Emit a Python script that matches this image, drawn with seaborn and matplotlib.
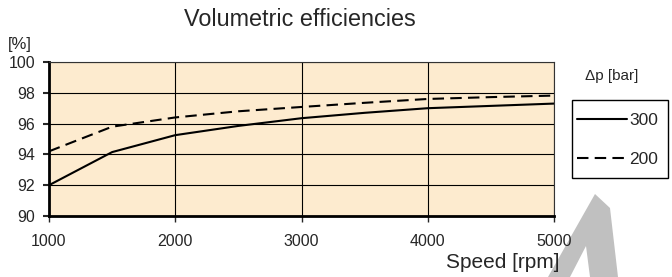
import matplotlib
matplotlib.use('Agg')
import matplotlib.pyplot as plt
import pandas as pd
import seaborn as sns
from matplotlib.lines import Line2D
from matplotlib.patches import Polygon, Rectangle

sns.set_style("white")
plt.rcParams['font.family'] = ['Liberation Sans', 'DejaVu Sans']

# values
speed = [1000, 1500, 2000, 2500, 3000, 3500, 4000, 4500, 5000]
eff_300 = [92.0, 94.15, 95.25, 95.85, 96.35, 96.7, 97.0, 97.15, 97.3]
eff_200 = [94.2, 95.8, 96.4, 96.8, 97.08, 97.35, 97.6, 97.72, 97.82]
pressures = [300, 200]
x_ticks = [1000, 2000, 3000, 4000, 5000]
y_ticks = [90, 92, 94, 96, 98, 100]

df = pd.DataFrame({
    'speed': speed * 2,
    'eff': eff_300 + eff_200,
    'dp': [pressures[0]] * len(speed) + [pressures[1]] * len(speed),
})

fig = plt.figure(figsize=(6.72, 2.77), dpi=100)
ax = fig.add_axes([49 / 672, 1 - 216 / 277, 505 / 672, 154 / 277])
ax.set_facecolor('#fdebcf')

sns.lineplot(data=df, x='speed', y='eff', hue='dp', style='dp',
             palette={300: 'black', 200: 'black'},
             dashes={300: '', 200: (5.5, 3)},
             linewidth=1.5, legend=False, ax=ax)

ax.set_xlim(1000, 5000)
ax.set_ylim(90, 100)
ax.set_xticks(x_ticks)
ax.set_yticks(y_ticks)
ax.grid(True, color='black', linewidth=0.8)
ax.set_axisbelow(True)
for side in ['left', 'bottom']:
    ax.spines[side].set_linewidth(2)
    ax.spines[side].set_color('black')
for side in ['top', 'right']:
    ax.spines[side].set_linewidth(0.8)
    ax.spines[side].set_color('#333333')
ax.tick_params(axis='y', length=4, width=1.5, labelsize=11.5, pad=6, left=True)
ax.tick_params(axis='x', length=4, width=1, labelsize=11.5, pad=9, bottom=True)

ax.set_ylabel('')
ax.set_xlabel('Speed [rpm]', fontsize=15)
ax.xaxis.set_label_coords(1.0 + 6 / 505, -(263 - 216) / 154)
ax.xaxis.label.set_ha('right')
ax.xaxis.label.set_va('center')

fig.text(300 / 672, 1 - 20 / 277, 'Volumetric efficiencies', fontsize=16.8,
         ha='center', va='center')
fig.text(8 / 672, 1 - 45 / 277, '[%]', fontsize=12, ha='left', va='center')

# grey arrow decoration behind the legend
arrow = Polygon([(548 / 672, 0), (595 / 672, 1 - 194 / 277), (610 / 672, 1 - 208 / 277),
                 (618 / 672, 0), (590 / 672, 0), (586 / 672, 1 - 246 / 277),
                 (570 / 672, 0)], closed=True, transform=fig.transFigure,
                facecolor='#c0c0c0', edgecolor='none', zorder=-1)
fig.patches.append(arrow)

# legend: title above, box drawn separately
fig.text(585 / 672, 1 - 76 / 277, '\u0394p [bar]', fontsize=11, ha='left', va='center')
fig.patches.append(Rectangle((572 / 672, 1 - 178 / 277), 96 / 672, 78 / 277,
                             transform=fig.transFigure, facecolor='white',
                             edgecolor='black', linewidth=1, zorder=1))
handles = [Line2D([], [], color='black', linewidth=1.5),
           Line2D([], [], color='black', linewidth=1.5, dashes=(5.5, 3))]
leg = fig.legend(handles, [str(p) for p in pressures], loc='upper left',
                 bbox_to_anchor=(577 / 672, 1 - 113 / 277), fontsize=12.5,
                 frameon=False, handlelength=2.9, handletextpad=0.1,
                 labelspacing=1.38, borderpad=0, borderaxespad=0)
leg.set_zorder(2)

fig.savefig('out.png', dpi=100)
